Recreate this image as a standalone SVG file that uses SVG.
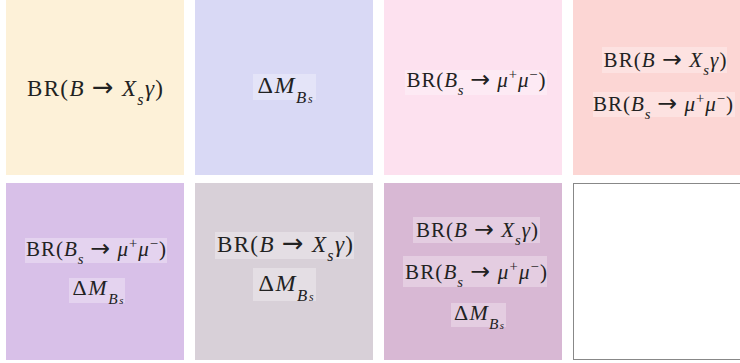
<svg xmlns="http://www.w3.org/2000/svg" width="740" height="363" viewBox="0 0 740 363">
<style>
.t{font-family:"Liberation Serif","DejaVu Serif",serif;fill:#222;text-anchor:middle}
.i{font-style:italic}
.s{font-size:70%}
.a{font-family:"DejaVu Sans",sans-serif;font-size:112%}
.hl{fill:#ffffff;fill-opacity:0.3}
</style>
<rect width="740" height="363" fill="#fff"/>
<g id="p1">
<rect x="6" y="0" width="178" height="175" fill="#fdf1d8"/>
<text class="t" x="95" y="96" font-size="23" textLength="136" lengthAdjust="spacing">BR(<tspan class="i">B</tspan> <tspan class="a">→</tspan> <tspan class="i">X</tspan><tspan class="i s" baseline-shift="sub">s</tspan><tspan class="i">γ</tspan>)</text>
</g>
<g id="p2">
<rect x="195" y="0" width="178" height="175" fill="#d9d9f5"/>
<rect class="hl" x="253" y="74" width="63" height="26"/>
<text class="t" x="285" y="93" font-size="24" textLength="55" lengthAdjust="spacing">Δ<tspan class="i">M</tspan><tspan class="i s" baseline-shift="sub">B<tspan font-size="70%">s</tspan></tspan></text>
</g>
<g id="p3">
<rect x="384" y="0" width="178" height="175" fill="#fde1ef"/>
<rect class="hl" x="405" y="70" width="142" height="25"/>
<text class="t" x="476" y="87" font-size="21" textLength="139" lengthAdjust="spacing">BR(<tspan class="i">B</tspan><tspan class="i s" baseline-shift="sub">s</tspan> <tspan class="a">→</tspan> <tspan class="i">μ</tspan><tspan class="s" baseline-shift="super">+</tspan><tspan class="i">μ</tspan><tspan class="s" baseline-shift="super">−</tspan>)</text>
</g>
<g id="p4">
<rect x="573" y="0" width="167" height="175" fill="#fcd6d4"/>
<rect class="hl" x="602" y="47" width="125" height="26"/>
<text class="t" x="665" y="67" font-size="21" textLength="123" lengthAdjust="spacing">BR(<tspan class="i">B</tspan> <tspan class="a">→</tspan> <tspan class="i">X</tspan><tspan class="i s" baseline-shift="sub">s</tspan><tspan class="i">γ</tspan>)</text>
<rect class="hl" x="593" y="92" width="142" height="25"/>
<text class="t" x="663" y="111" font-size="21" textLength="140" lengthAdjust="spacing">BR(<tspan class="i">B</tspan><tspan class="i s" baseline-shift="sub">s</tspan> <tspan class="a">→</tspan> <tspan class="i">μ</tspan><tspan class="s" baseline-shift="super">+</tspan><tspan class="i">μ</tspan><tspan class="s" baseline-shift="super">−</tspan>)</text>
</g>
<g id="p5">
<rect x="6" y="183" width="178" height="177" fill="#d8c0e8"/>
<rect class="hl" x="25" y="238" width="142" height="25"/>
<text class="t" x="96" y="256" font-size="21" textLength="140" lengthAdjust="spacing">BR(<tspan class="i">B</tspan><tspan class="i s" baseline-shift="sub">s</tspan> <tspan class="a">→</tspan> <tspan class="i">μ</tspan><tspan class="s" baseline-shift="super">+</tspan><tspan class="i">μ</tspan><tspan class="s" baseline-shift="super">−</tspan>)</text>
<rect class="hl" x="69" y="278" width="56" height="25"/>
<text class="t" x="98" y="295" font-size="22" textLength="51" lengthAdjust="spacing">Δ<tspan class="i">M</tspan><tspan class="i s" baseline-shift="sub">B<tspan font-size="70%">s</tspan></tspan></text>
</g>
<g id="p6">
<rect x="195" y="183" width="178" height="177" fill="#d8d0d8"/>
<rect class="hl" x="215" y="232" width="139" height="27"/>
<text class="t" x="285" y="252" font-size="23" textLength="136" lengthAdjust="spacing">BR(<tspan class="i">B</tspan> <tspan class="a">→</tspan> <tspan class="i">X</tspan><tspan class="i s" baseline-shift="sub">s</tspan><tspan class="i">γ</tspan>)</text>
<rect class="hl" x="253" y="268" width="63" height="33"/>
<text class="t" x="286" y="291" font-size="24" textLength="55" lengthAdjust="spacing">Δ<tspan class="i">M</tspan><tspan class="i s" baseline-shift="sub">B<tspan font-size="70%">s</tspan></tspan></text>
</g>
<g id="p7">
<rect x="384" y="183" width="178" height="177" fill="#d8b8d4"/>
<rect class="hl" x="413" y="217" width="127" height="26"/>
<text class="t" x="477" y="237" font-size="21" textLength="122" lengthAdjust="spacing">BR(<tspan class="i">B</tspan> <tspan class="a">→</tspan> <tspan class="i">X</tspan><tspan class="i s" baseline-shift="sub">s</tspan><tspan class="i">γ</tspan>)</text>
<rect class="hl" x="403" y="256" width="144" height="31"/>
<text class="t" x="476" y="279" font-size="21" textLength="142" lengthAdjust="spacing">BR(<tspan class="i">B</tspan><tspan class="i s" baseline-shift="sub">s</tspan> <tspan class="a">→</tspan> <tspan class="i">μ</tspan><tspan class="s" baseline-shift="super">+</tspan><tspan class="i">μ</tspan><tspan class="s" baseline-shift="super">−</tspan>)</text>
<rect class="hl" x="451" y="303" width="55" height="24"/>
<text class="t" x="479" y="320" font-size="22" textLength="50" lengthAdjust="spacing">Δ<tspan class="i">M</tspan><tspan class="i s" baseline-shift="sub">B<tspan font-size="70%">s</tspan></tspan></text>
</g>
<g id="p8">
<rect x="573.5" y="183.5" width="170" height="176" fill="#fff" stroke="#888" stroke-width="1"/>
</g>
<g id="connectors"></g>
</svg>
